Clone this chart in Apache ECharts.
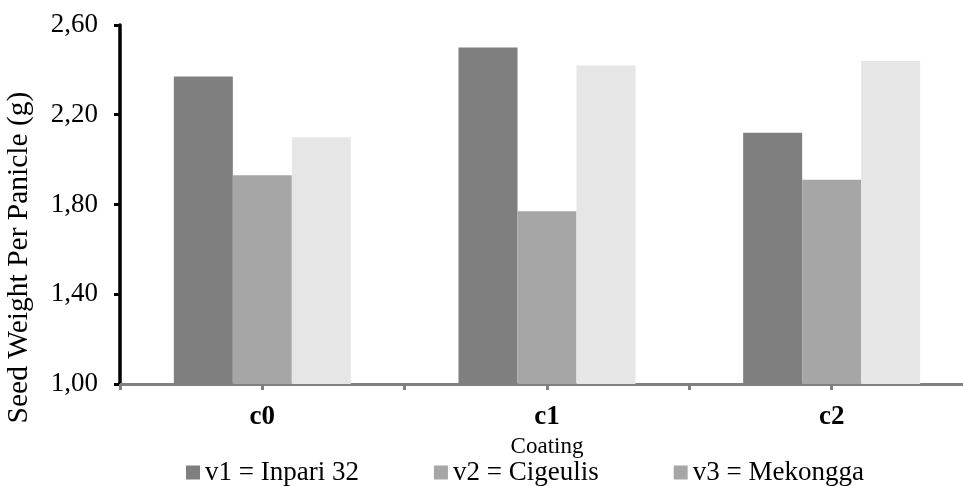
<!DOCTYPE html>
<html>
<head>
<meta charset="utf-8">
<script src="https://cdn.jsdelivr.net/npm/echarts@6/dist/echarts.min.js"></script>
<style>
html,body{margin:0;padding:0;background:#fff;overflow:hidden;}
#chart{width:963px;height:486px;}
</style>
</head>
<body>
<div id="chart"></div>
<script>
var categories = ['c0', 'c1', 'c2'];
var seriesNames = ['v1 = Inpari 32', 'v2 = Cigeulis', 'v3 = Mekongga'];
var v1Values = [2.37, 2.50, 2.12];
var v2Values = [1.93, 1.77, 1.91];
var v3Values = [2.10, 2.42, 2.44];
var yTicks = [1.00, 1.40, 1.80, 2.20, 2.60];

var FONT = '"Liberation Serif", "Times New Roman", serif';
var colors = ['#7f7f7f', '#a6a6a6', '#e6e6e6'];
var legendColors = ['#7f7f7f', '#a6a6a6', '#a6a6a6'];
var allValues = [v1Values, v2Values, v3Values];

var chart = echarts.init(document.getElementById('chart'), null, {renderer: 'canvas'});
var option = {
  animation: false,
  backgroundColor: '#ffffff',
  textStyle: {fontFamily: FONT, color: '#000'},
  grid: {left: 120, width: 854, top: 25, bottom: 102, containLabel: false, outerBoundsMode: 'none'},
  legend: {
    left: 181, top: 454,
    icon: 'rect', itemWidth: 14, itemHeight: 14, itemGap: 75,
    textStyle: {fontFamily: FONT, fontSize: 27, color: '#000'},
    data: seriesNames.map(function (n, i) { return {name: n, itemStyle: {color: legendColors[i]}}; })
  },
  xAxis: [{
    type: 'category',
    data: categories,
    position: 'bottom',
    name: 'Coating',
    nameLocation: 'middle',
    nameGap: 44,
    nameTextStyle: {fontFamily: FONT, fontSize: 23, color: '#000'},
    axisLine: {show: true, lineStyle: {color: '#808080', width: 3}},
    axisTick: {show: true, alignWithLabel: false, length: 6, lineStyle: {color: '#808080', width: 3}},
    axisLabel: {fontFamily: FONT, fontSize: 27, fontWeight: 'bold', color: '#000', margin: 20},
    splitLine: {show: false}
  }, {
    type: 'category',
    data: categories,
    position: 'bottom',
    axisLine: {show: false},
    axisTick: {show: true, alignWithLabel: true, length: 6, lineStyle: {color: '#808080', width: 3}},
    axisLabel: {show: false},
    splitLine: {show: false}
  }],
  yAxis: {
    type: 'value',
    min: yTicks[0], max: yTicks[yTicks.length - 1], interval: 0.4,
    name: 'Seed Weight Per Panicle (g)',
    nameLocation: 'middle',
    nameRotate: 90,
    nameGap: 86,
    nameTextStyle: {fontFamily: FONT, fontSize: 29.5, color: '#000', padding: [0, 106, 0, 0]},
    axisLine: {show: true, lineStyle: {color: '#000', width: 3.5}},
    axisTick: {show: true, length: 6, lineStyle: {color: '#000', width: 3}},
    axisLabel: {
      fontFamily: FONT, fontSize: 27, color: '#000', margin: 22,
      formatter: function (v) { return v.toFixed(2).replace('.', ','); }
    },
    splitLine: {show: false}
  },
  series: seriesNames.map(function (n, i) {
    return {
      name: n,
      type: 'bar',
      data: allValues[i],
      barWidth: 59,
      barGap: '0%',
      itemStyle: {color: colors[i]}
    };
  })
};
chart.setOption(option);
</script>
</body>
</html>
